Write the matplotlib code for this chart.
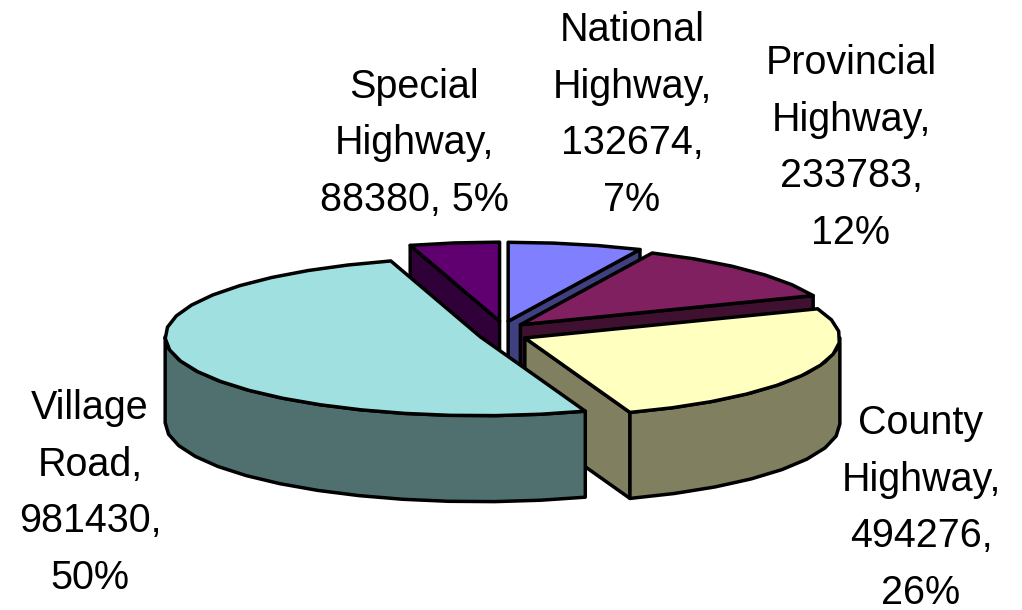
"""Exploded 3D pie of road length by road class.
"""
import matplotlib
matplotlib.use('Agg')
import matplotlib.pyplot as plt
from matplotlib.patches import Polygon
import numpy as np

road_names = ['National Highway', 'Provincial Highway', 'County Highway',
              'Village Road', 'Special Highway']
road_lengths = [132674, 233783, 494276, 981430, 88380]
road_percents = [7, 12, 26, 50, 5]

top_colors = ['#8080FF', '#802060', '#FFFFC0', '#A0E0E0', '#600070']
side_colors = ['#404080', '#401030', '#808060', '#507070', '#300038']

# where each label sits and how its lines wrap
label_lines = [
    ['National', 'Highway,', '132674,', '7%'],
    ['Provincial', 'Highway,', '233783,', '12%'],
    ['County', 'Highway,', '494276,', '26%'],
    ['Village', 'Road,', '981430,', '50%'],
    ['Special', 'Highway,', '88380, 5%'],
]
label_centers = [(632, 115), (851, 148), (921, 508), (90, 493), (414, 143)]

CENTER = (503, 333)
RX, RY = 315, 79
DEPTH = 86
EXPLODE_X, EXPLODE_Y = 24, 12
LINE_W = 2.5
LINE_STEP = 56.5
FONT_PX = 39.5


def on_rim(angle, rx=RX, ry=RY):
    # angle runs clockwise from twelve o'clock, y grows downward
    return np.array([rx * np.sin(angle), -ry * np.cos(angle)]).T


def arc(start, end, step=np.radians(8)):
    n = max(int(abs(end - start) / step), 1) + 1
    return np.linspace(start, end, n)


def draw_slice(ax, start, end, top, side):
    mid = (start + end) / 2
    apex = np.array(CENTER) + on_rim(mid, EXPLODE_X, EXPLODE_Y)
    down = np.array([0, DEPTH])
    style = dict(edgecolor='black', linewidth=LINE_W, joinstyle='round')

    # radial cut faces, only those turned toward the viewer
    if np.sin(start) < -1e-6:
        edge = apex + on_rim(start)
        ax.add_patch(Polygon([apex, edge, edge + down, apex + down],
                             facecolor=side, **style))
    if np.sin(end) > 1e-6:
        edge = apex + on_rim(end)
        ax.add_patch(Polygon([apex, edge, edge + down, apex + down],
                             facecolor=side, **style))

    # outer wall on the front half of the rim
    lo, hi = max(start, np.pi / 2), min(end, 3 * np.pi / 2)
    if hi > lo:
        rim = apex + on_rim(arc(lo, hi))
        ax.add_patch(Polygon(np.vstack([rim, (rim + down)[::-1]]),
                             facecolor=side, **style))

    rim = apex + on_rim(arc(start, end))
    ax.add_patch(Polygon(np.vstack([apex, rim]), facecolor=top, **style))


def gen_graph():
    fig = plt.figure(figsize=(10.22, 6.10), dpi=100)
    ax = fig.add_axes([0, 0, 1, 1])
    ax.set_xlim(0, 1022)
    ax.set_ylim(610, 0)
    ax.axis('off')

    lengths = np.array(road_lengths, dtype=float)
    edges = np.concatenate([[0], np.cumsum(lengths)]) / lengths.sum() * 2 * np.pi

    # back slices first, so the front ones cover them
    for i in [4, 0, 1, 2, 3]:
        draw_slice(ax, edges[i], edges[i + 1], top_colors[i], side_colors[i])

    font_pt = FONT_PX * 72 / fig.dpi
    for lines, (x, y) in zip(label_lines, label_centers):
        first = y - LINE_STEP * (len(lines) - 1) / 2
        for j, line in enumerate(lines):
            ax.text(x, first + j * LINE_STEP, line, ha='center', va='center',
                    family='Liberation Sans', fontsize=font_pt, color='black')

    fig.savefig('out.png', dpi=100)


if __name__ == '__main__':
    gen_graph()
